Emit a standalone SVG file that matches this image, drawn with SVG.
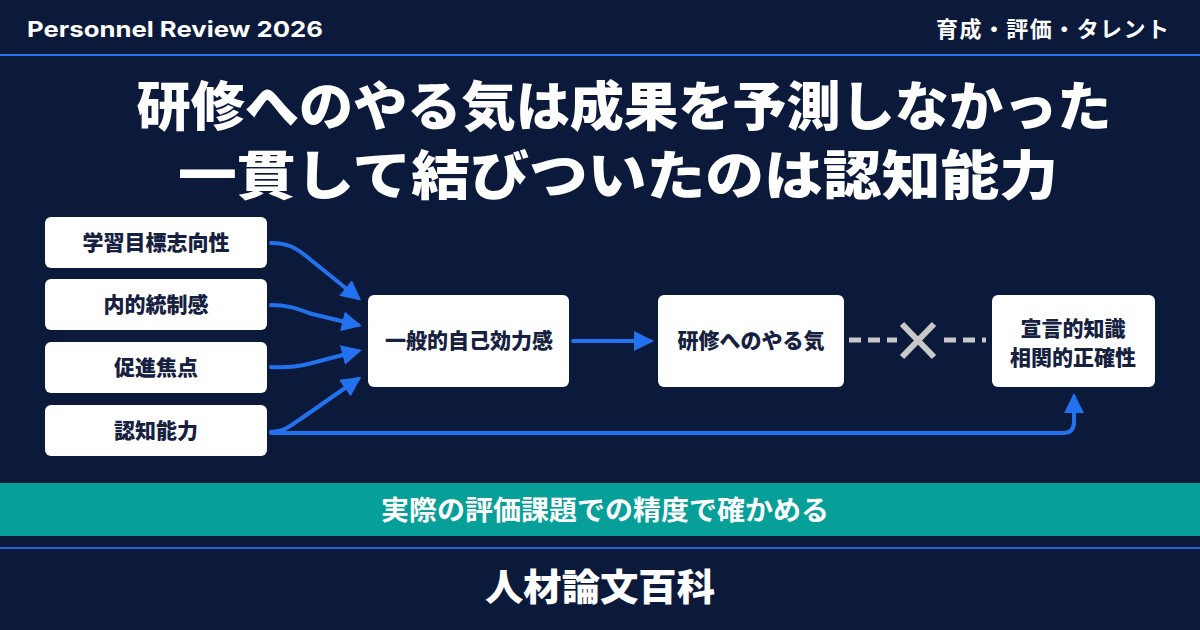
<svg xmlns="http://www.w3.org/2000/svg" width="1200" height="630" viewBox="0 0 1200 630">
<defs>
<style>
.jp{font-family:"Noto Sans CJK JP","Noto Sans",sans-serif;font-weight:700}
.blk{font-weight:900}
.node rect{fill:#ffffff}
.node text{fill:#16213f;font-size:21px;text-anchor:middle;font-weight:900}
.conn{fill:none;stroke:#2272f0;stroke-width:4;stroke-linecap:round;stroke-linejoin:round}
</style>
<marker id="ah" viewBox="0 0 10 10" refX="8" refY="5" markerWidth="5" markerHeight="5" orient="auto" markerUnits="strokeWidth">
<path d="M0,0 L10,5 L0,10 Z" fill="#2272f0"/>
</marker>
</defs>
<rect x="0" y="0" width="1200" height="630" fill="#0b1a3b"/>
<g id="header">
<text x="27" y="37" font-family="Inter,'Liberation Sans',sans-serif" font-weight="700" font-size="22" fill="#ffffff" textLength="296" lengthAdjust="spacingAndGlyphs">Personnel Review 2026</text>
<text x="1169" y="37" class="jp" font-size="22" fill="#ffffff" text-anchor="end" textLength="233" lengthAdjust="spacing">育成・評価・タレント</text>
<rect x="0" y="54" width="1200" height="2" fill="#2272f0"/>
</g>
<g id="title" class="jp blk" fill="#ffffff" text-anchor="middle" font-size="53">
<text x="624" y="126" textLength="975" lengthAdjust="spacingAndGlyphs">研修へのやる気は成果を予測しなかった</text>
<text x="618" y="195" textLength="880" lengthAdjust="spacingAndGlyphs">一貫して結びついたのは認知能力</text>
</g>
<g id="connectors">
<path class="conn" d="M271,243 C288,243 296,248 306,256 L358,298" marker-end="url(#ah)"/>
<path class="conn" d="M271,305 C290,305 300,310 312,314 L358,325" marker-end="url(#ah)"/>
<path class="conn" d="M271,367 C290,368 300,366 312,363 L358,351" marker-end="url(#ah)"/>
<path class="conn" d="M271,432 C284,432 292,425 302,418 L358,379" marker-end="url(#ah)"/>
<path class="conn" d="M271,433 H1063 Q1074,433 1074,422 V397" marker-end="url(#ah)"/>
<path class="conn" d="M573,341 H650" marker-end="url(#ah)"/>
<path d="M849,340 H986" fill="none" stroke="#c8c8c8" stroke-width="5" stroke-dasharray="12,7"/>
<g id="cross">
<rect x="897" y="322" width="40" height="36" fill="#0b1a3b"/>
<path d="M902,324 L934,357 M934,324 L902,357" stroke="#c8c8c8" stroke-width="6" stroke-linecap="butt"/>
</g>
</g>
<g id="n1" class="node jp"><rect x="45" y="217" width="222" height="51" rx="6"/><text x="156" y="250">学習目標志向性</text></g>
<g id="n2" class="node jp"><rect x="45" y="279" width="222" height="51" rx="6"/><text x="156" y="312">内的統制感</text></g>
<g id="n3" class="node jp"><rect x="45" y="342" width="222" height="51" rx="6"/><text x="156" y="375">促進焦点</text></g>
<g id="n4" class="node jp"><rect x="45" y="405" width="222" height="51" rx="6"/><text x="156" y="438">認知能力</text></g>
<g id="n5" class="node jp"><rect x="368" y="295" width="201" height="92" rx="6"/><text x="469" y="348" font-size="20">一般的自己効力感</text></g>
<g id="n6" class="node jp"><rect x="658" y="295" width="186" height="92" rx="6"/><text x="751" y="348" font-size="20">研修へのやる気</text></g>
<g id="n7" class="node jp"><rect x="992" y="295" width="163" height="92" rx="6"/><text x="1073" y="336" font-size="20">宣言的知識</text><text x="1073" y="365" font-size="20">相関的正確性</text></g>
<g id="band">
<rect x="0" y="483" width="1200" height="53" fill="#07a099"/>
<text x="605" y="520" class="jp" font-size="27" fill="#ffffff" text-anchor="middle" textLength="448" lengthAdjust="spacingAndGlyphs">実際の評価課題での精度で確かめる</text>
</g>
<g id="footer">
<rect x="0" y="547" width="1200" height="2" fill="#2a62d8"/>
<text x="600" y="601" class="jp blk" font-size="37" fill="#ffffff" text-anchor="middle" textLength="230" lengthAdjust="spacingAndGlyphs">人材論文百科</text>
</g>
</svg>
